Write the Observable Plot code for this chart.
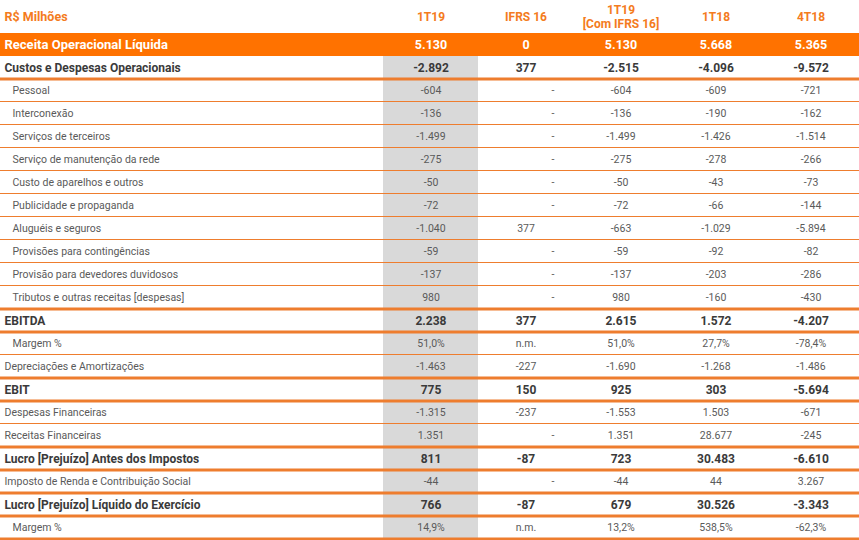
<!DOCTYPE html>
<html><head><meta charset="utf-8">
<script src="https://cdn.jsdelivr.net/npm/d3@7"></script>
<script src="https://cdn.jsdelivr.net/npm/@observablehq/plot@0.6"></script>
<style>
body{margin:0;background:#fff;}
g[aria-label^="b-"] text{letter-spacing:0.7px}
g[aria-label^="n-"] text{letter-spacing:-0.3px}
</style></head><body><div id="chart"></div>
<script>
const unitLabel = "R$ Milhões";
const columns = ["1T19", "IFRS 16", "1T19\n[Com IFRS 16]", "1T18", "4T18"];
const rowLabels = [
  "Receita Operacional Líquida", "Custos e Despesas Operacionais", "Pessoal", "Interconexão",
  "Serviços de terceiros", "Serviço de manutenção da rede", "Custo de aparelhos e outros",
  "Publicidade e propaganda", "Aluguéis e seguros", "Provisões para contingências",
  "Provisão para devedores duvidosos", "Tributos e outras receitas [despesas]", "EBITDA",
  "Margem %", "Depreciações e Amortizações", "EBIT", "Despesas Financeiras", "Receitas Financeiras",
  "Lucro [Prejuízo] Antes dos Impostos", "Imposto de Renda e Contribuição Social",
  "Lucro [Prejuízo] Líquido do Exercício", "Margem %"
];
const rowKinds = ["total", "bold", "sub", "sub", "sub", "sub", "sub", "sub", "sub", "sub", "sub", "sub",
  "bold", "pct", "plain", "bold", "plain", "plain", "bold", "plain", "bold", "pct"];
const v1T19 = [5130, -2892, -604, -136, -1499, -275, -50, -72, -1040, -59, -137, 980, 2238, 51.0, -1463, 775, -1315, 1351, 811, -44, 766, 14.9];
const vIFRS16 = [0, 377, null, null, null, null, null, null, 377, null, null, null, 377, null, -227, 150, -237, null, -87, null, -87, null];
const vCom = [5130, -2515, -604, -136, -1499, -275, -50, -72, -663, -59, -137, 980, 2615, 51.0, -1690, 925, -1553, 1351, 723, -44, 679, 13.2];
const v1T18 = [5668, -4096, -609, -190, -1426, -278, -43, -66, -1029, -92, -203, -160, 1572, 27.7, -1268, 303, 1503, 28677, 30483, 44, 30526, 538.5];
const v4T18 = [5365, -9572, -721, -162, -1514, -266, -73, -144, -5894, -82, -286, -430, -4207, -78.4, -1486, -5694, -671, -245, -6610, 3267, -3343, -62.3];
const series = [v1T19, vIFRS16, vCom, v1T18, v4T18];

const ORANGE = "#ff7200", LINE = "#ee7d2e", HEAD = "#f47b20", GRAY = "#d9d9d9";
const BOLDTXT = "#3a3a3a", TXT = "#5a5a5a";
const locale = d3.formatLocale({decimal: ",", thousands: ".", grouping: [3], currency: ["R$ ", ""], minus: "-"});
const fInt = locale.format(",d"), fPct = locale.format(",.1f");

const rows = rowLabels.map((label, i) => ({i, label, kind: rowKinds[i]}));
const cells = [];
columns.forEach((c, j) => rows.forEach(r => {
  const v = series[j][r.i];
  const pct = r.kind === "pct";
  const txt = v == null ? (pct ? "n.m." : "-") : (pct ? fPct(v) + "%" : fInt(v));
  cells.push({col: c, i: r.i, kind: r.kind, txt, dash: v == null && !pct});
}));
const isBold = k => k === "bold";
const lineRows = rows.filter(r => r.kind !== "total").map(r => ({
  ...r, thick: isBold(r.kind) || r.i === rows.length - 1 || isBold(rows[r.i + 1].kind)
}));

const plot = Plot.plot({
  width: 859, height: 540,
  marginTop: 33, marginBottom: 1, marginLeft: 0, marginRight: 0,
  x: {type: "band", domain: columns, range: [383, 858], padding: 0, axis: null},
  y: {type: "band", domain: d3.range(rows.length), padding: 0, axis: null},
  style: {fontFamily: "Roboto, sans-serif", background: "#fff"},
  marks: [
    Plot.cell(rows.filter(r => r.kind === "total"), {y: "i", fill: ORANGE}),
    Plot.cell(cells.filter(d => d.col === columns[0] && d.kind !== "total"), {x: "col", y: "i", fill: GRAY}),
    Plot.cell(lineRows.filter(r => !r.thick), {y: "i", fill: LINE, insetTop: 22, insetBottom: 0}),
    Plot.cell(lineRows.filter(r => r.thick), {y: "i", fill: LINE, insetTop: 21.5, insetBottom: -1.5}),
    // header
    Plot.text([unitLabel], {text: d => d, frameAnchor: "top-left", lineAnchor: "middle", dx: 4, dy: -17,
      fill: HEAD, fontWeight: "bold", fontSize: 12.5, ariaLabel: "b-unit"}),
    Plot.text(columns, {x: d => d, text: d => d, frameAnchor: "top", lineAnchor: "middle", dy: -17,
      lineHeight: 1.15, fill: HEAD, fontWeight: "bold", fontSize: 12, ariaLabel: "b-head"}),
    // row labels
    Plot.text(rows.filter(r => r.kind === "total"), {y: "i", text: "label", frameAnchor: "left", dx: 4,
      fill: "#fff", fontWeight: "bold", fontSize: 13, ariaLabel: "b-total"}),
    Plot.text(rows.filter(r => r.kind === "bold"), {y: "i", text: "label", frameAnchor: "left", dx: 4,
      fill: BOLDTXT, fontWeight: "bold", fontSize: 12, ariaLabel: "b-rows"}),
    Plot.text(rows.filter(r => r.kind === "plain"), {y: "i", text: "label", frameAnchor: "left", dx: 4,
      fill: TXT, fontSize: 10.5, ariaLabel: "n-plain"}),
    Plot.text(rows.filter(r => r.kind === "sub" || r.kind === "pct"), {y: "i", text: "label", frameAnchor: "left", dx: 12,
      fill: TXT, fontSize: 10.5, ariaLabel: "n-sub"}),
    // values
    Plot.text(cells.filter(d => d.kind === "total"), {x: "col", y: "i", text: "txt",
      fill: "#fff", fontWeight: "bold", fontSize: 12.5, ariaLabel: "b-totalv"}),
    Plot.text(cells.filter(d => d.kind === "bold"), {x: "col", y: "i", text: "txt",
      fill: BOLDTXT, fontWeight: "bold", fontSize: 12, ariaLabel: "b-boldv"}),
    Plot.text(cells.filter(d => (d.kind === "sub" || d.kind === "plain" || d.kind === "pct") && !d.dash), {x: "col", y: "i", text: "txt",
      fill: TXT, fontSize: 10.5, ariaLabel: "n-vals"}),
    Plot.text(cells.filter(d => d.dash), {x: "col", y: "i", text: "txt", dx: 27,
      fill: TXT, fontSize: 10.5, ariaLabel: "n-dash"})
  ]
});
document.getElementById("chart").appendChild(plot);
</script></body></html>
